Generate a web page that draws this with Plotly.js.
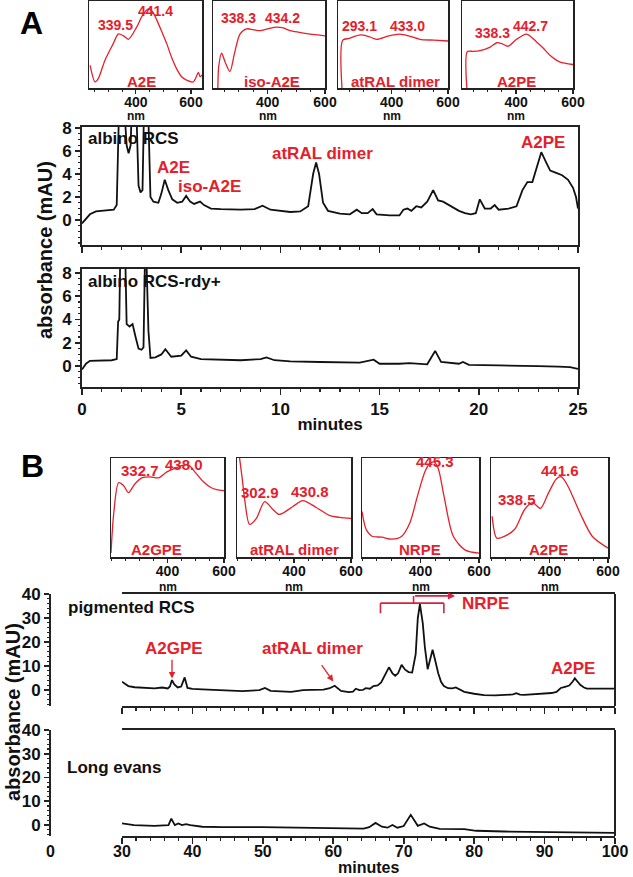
<!DOCTYPE html>
<html><head><meta charset="utf-8">
<script src="https://cdn.plot.ly/plotly-3.0.1.min.js"></script>
<style>html,body{margin:0;padding:0;background:#fff}#chart{width:633px;height:877px}</style>
</head><body><div id="chart"></div>
<script>
// ---------------- DATA ----------------
// Panel A chromatograms (minutes, mAU)
const albinoRcsTime = [0,0.15,0.4,0.7,1.0,1.3,1.6,1.75,1.82,1.9,2.05,2.25,2.35,2.45,2.55,2.7,2.85,2.95,3.05,3.15,3.3,3.45,3.6,3.85,4.0,4.17,4.35,4.55,4.8,5.05,5.25,5.45,5.65,5.95,6.15,6.5,7.0,8.0,8.7,9.1,9.5,10.0,10.5,11.0,11.4,11.65,11.8,11.95,12.15,12.4,13.0,13.5,13.85,14.1,14.4,14.65,14.85,15.5,16.0,16.2,16.4,16.6,16.85,17.1,17.4,17.7,17.95,18.2,18.6,19.0,19.3,19.6,19.85,20.05,20.3,20.6,20.8,21.0,21.5,21.9,22.2,22.45,22.7,22.9,23.15,23.4,23.6,23.9,24.2,24.5,24.75,24.9,25.0];
const albinoRcsAbs  = [-0.3,0.0,0.5,0.75,0.8,0.85,0.9,1.3,6.0,12,12,6.5,5.8,6.5,12,12,3.0,2.4,2.6,12,12,2.0,1.6,1.5,2.3,3.5,2.6,1.8,1.5,1.6,2.1,1.6,1.4,1.6,1.3,1.0,0.95,0.9,0.95,1.25,0.9,0.8,0.7,0.75,1.2,4.0,5.0,4.0,1.5,0.8,0.55,0.5,0.9,0.6,0.6,0.95,0.5,0.4,0.4,0.9,1.0,0.8,1.2,1.1,1.6,2.6,1.7,1.6,1.2,0.8,0.6,0.5,0.6,1.8,1.0,1.0,1.3,0.9,1.0,1.2,2.6,3.3,3.3,4.5,5.9,5.0,4.3,4.1,3.9,3.5,2.8,2.0,1.0];
const rdyTime = [0,0.2,0.4,1.0,1.5,1.75,1.82,1.88,1.95,2.15,2.25,2.4,2.55,2.7,2.85,3.0,3.1,3.2,3.35,3.45,3.7,4.0,4.2,4.5,5.0,5.25,5.5,6.0,7.0,8.0,9.0,9.3,9.7,10.5,12.0,13.0,14.0,14.7,15.0,16.0,16.5,17.4,17.8,18.1,19.0,19.2,19.5,21.0,22.0,23.0,24.0,24.6,25.0];
const rdyAbs  = [-0.3,0.2,0.45,0.45,0.5,0.6,3.8,4.0,12,12,3.6,3.4,3.6,2.5,1.5,1.4,1.6,12,3.0,0.7,0.75,1.0,1.45,0.8,0.9,1.35,0.8,0.6,0.55,0.5,0.6,0.75,0.5,0.4,0.35,0.3,0.3,0.55,0.2,0.2,0.25,0.15,1.3,0.35,0.2,0.35,0.1,0.05,0.05,0.0,-0.05,-0.1,-0.25];

// Panel B chromatograms (minutes, mAU)
const pigTime = [30,30.5,30.9,31.8,32.9,33.8,34.6,35.7,36.5,36.8,37.1,37.4,37.9,38.4,38.9,39.3,40.0,41.4,43.0,44.3,46.0,47.1,49.5,50.3,51.1,52.5,54.0,55.0,55.7,57.0,58.6,59.5,60.2,61.1,62.2,62.8,63.2,63.7,64.2,64.6,65.2,65.7,66.3,66.8,67.3,67.9,68.4,68.8,69.2,69.7,70.2,70.7,71.2,71.7,72.0,72.3,72.7,73.0,73.4,73.8,74.1,74.5,74.9,75.3,75.7,76.3,76.9,77.4,78.0,78.6,80.0,81.4,83.0,84.3,85.5,86.0,86.5,87.1,88.5,90.0,91.0,91.7,92.3,92.9,93.5,94.0,94.3,94.7,95.1,95.6,96.0,98.0,100.0];
const pigAbs  = [3.5,2.6,1.7,1.2,1.1,0.9,0.7,1.1,0.7,1.5,4.2,2.5,1.1,1.5,5.3,0.9,0.5,0.3,0.1,0.0,-0.2,-0.4,0.0,0.9,-0.3,-0.5,-0.7,-0.3,0.0,0.1,0.2,0.8,1.8,-0.3,-0.8,-0.6,0.6,0.0,0.1,0.8,0.6,1.7,2.0,3.2,6.0,9.5,7.0,6.0,7.0,10.5,8.5,7.5,7.3,15,30,35.8,28,18,8.7,13,16.8,12,7.0,3.5,1.7,0.8,0.7,1.1,0.2,-0.7,-1.5,-2.1,-2.2,-2.1,-1.8,-1.3,-1.9,-2.0,-1.8,-1.4,-1.2,-0.7,0.9,1.4,1.9,3.6,4.9,3.5,2.1,1.1,0.6,0.6,0.6];
const leTime = [30,31.7,34.6,35.7,36.6,37.0,37.5,38.0,38.5,39.1,39.7,41.4,44.3,50.0,55.7,61.4,64.3,65.1,66.0,66.9,67.7,68.4,69.1,70.0,71.0,72.0,72.9,73.7,75.1,78.6,80.3,84.3,90.0,95.7,100.0];
const leAbs  = [0.7,0.0,-0.3,0.0,0.0,2.7,0.0,0.7,0.0,0.4,0.0,-0.7,-0.9,-0.9,-1.2,-1.5,-1.5,-0.9,0.9,-0.7,-1.1,0.0,-1.1,-0.4,4.3,-0.3,0.7,-0.7,-1.6,-1.7,-2.4,-2.7,-2.9,-3.2,-3.3];

// Panel A UV-vis spectra (nm, relative absorbance)
const a2eNm  = [234,252,264,288,318,336,355,373,403,425,445,460,476,495,512,530,548,566,584,608,618,627,633,640];
const a2eAbs = [0.26,0.07,0.11,0.32,0.51,0.62,0.60,0.56,0.70,0.84,0.91,0.88,0.78,0.64,0.51,0.35,0.22,0.13,0.09,0.07,0.12,0.18,0.13,0.15];
const isoA2eNm  = [227,230,240,252,269,285,304,327,350,374,400,432,455,478,510,548,575,600];
const isoA2eAbs = [0.0,0.25,0.40,0.30,0.19,0.40,0.62,0.68,0.67,0.66,0.68,0.70,0.69,0.66,0.64,0.62,0.61,0.60];
const dimerANm  = [224,227,250,289,320,347,390,429,460,500,550,600];
const dimerAAbs = [0.0,0.55,0.57,0.61,0.59,0.56,0.60,0.62,0.60,0.56,0.55,0.54];
const a2peANm  = [227,229,250,274,309,332,350,372,402,437,472,495,518,553,600];
const a2peAAbs = [0.0,0.42,0.42,0.43,0.47,0.52,0.51,0.48,0.56,0.62,0.53,0.46,0.38,0.30,0.27];

// Panel B UV-vis spectra (nm, relative absorbance)
const a2gpeNm  = [200,210,227,245,262,285,309,339,368,398,430,460,474,500,527,555,574,600];
const a2gpeAbs = [0.04,0.45,0.75,0.72,0.65,0.74,0.80,0.81,0.80,0.86,0.90,0.93,0.93,0.85,0.76,0.70,0.68,0.67];
const dimerBNm  = [209,218,227,244,268,297,326,349,396,431,478,524,560,600];
const dimerBAbs = [1.0,0.8,0.58,0.33,0.39,0.56,0.48,0.43,0.51,0.57,0.50,0.42,0.40,0.39];
const nrpeNm  = [200,214,234,268,302,336,363,390,415,430,445,460,480,512,553,600];
const nrpeAbs = [0.46,0.28,0.21,0.20,0.18,0.21,0.34,0.62,0.86,0.94,0.96,0.90,0.62,0.21,0.07,0.04];
const a2peBNm  = [204,220,247,281,315,342,369,397,424,441,464,505,546,600];
const a2peBAbs = [0.41,0.19,0.21,0.28,0.48,0.55,0.49,0.65,0.79,0.81,0.71,0.44,0.21,0.09];

// Tick labels
const aYTicks = [0,2,4,6,8];
const bYTicks = [0,10,20,30,40];
const specTicks = [400,600];

// ---------------- LAYOUT HELPERS ----------------
const W = 633, H = 877;
const FF = 'Liberation Sans, Arial, sans-serif';
const RED = '#e5202b';
const BRK = '#d8203f';
const LC = '#222';
const xd = (a,b) => [a/W, b/W];
const yd = (t,b) => [1-b/H, 1-t/H];
const bold = (s,c) => ({family:FF, size:s, color:c||'#111', weight:'bold'});

function chromX(domain, anchor, range, dtick, minor, labels, title, standoff, fsize) {
  const ax = {domain, anchor, range, showline:true, linecolor:LC, linewidth:2, mirror:true,
    ticks:'outside', ticklen:6, tickwidth:1.6, tickcolor:LC, tickmode:'linear', tick0:0, dtick,
    minor:{ticks:'outside', tickmode:'linear', tick0:0, dtick:minor, ticklen:3, tickwidth:1.2, tickcolor:LC},
    showticklabels:labels, tickfont:bold(fsize||17), showgrid:false, zeroline:false, fixedrange:true};
  if (standoff !== undefined) ax.ticklabelstandoff = standoff;
  if (title) ax.title = {text:title, font:bold(17), standoff:0};
  return ax;
}
function chromY(domain, anchor, range, vals, minor, mirror, pos) {
  const ax = {domain, anchor, range, showline:true, linecolor:LC, linewidth:2, mirror,
    ticks:'outside', ticklen:5, tickwidth:1.6, tickcolor:LC, tickmode:'array', tickvals:vals,
    minor:{ticks:'outside', tickmode:'linear', tick0:0, dtick:minor, ticklen:2.5, tickwidth:1.1, tickcolor:LC},
    tickfont:bold(17), showgrid:false, zeroline:false, fixedrange:true};
  if (pos !== undefined) ax.position = pos;
  return ax;
}
function specX(domain, anchor, range) {
  return {domain, anchor, range, showline:true, linecolor:LC, linewidth:1.5, mirror:true,
    ticks:'outside', ticklen:4, tickwidth:1.2, tickcolor:LC, tickmode:'array', tickvals:specTicks,
    minor:{ticks:'outside', tickmode:'linear', tick0:0, dtick:50, ticklen:2.5, tickwidth:1, tickcolor:LC},
    tickfont:bold(14), ticklabelstandoff:-3,
    showgrid:false, zeroline:false, fixedrange:true};
}
function specY(domain, anchor) {
  return {domain, anchor, range:[0,1], showline:true, linecolor:LC, linewidth:1.5, mirror:true,
    ticks:'', showticklabels:false, showgrid:false, zeroline:false, fixedrange:true};
}

// ---------------- TRACES ----------------
const chromLine = {color:'#111', width:1.8};
const specLine = {color:RED, width:1.3, shape:'spline', smoothing:0.8};
const traces = [
  {x:albinoRcsTime, y:albinoRcsAbs, xaxis:'x', yaxis:'y', line:chromLine},
  {x:rdyTime, y:rdyAbs, xaxis:'x2', yaxis:'y2', line:chromLine},
  {x:a2eNm, y:a2eAbs, xaxis:'x3', yaxis:'y3', line:specLine},
  {x:isoA2eNm, y:isoA2eAbs, xaxis:'x4', yaxis:'y4', line:specLine},
  {x:dimerANm, y:dimerAAbs, xaxis:'x5', yaxis:'y5', line:specLine},
  {x:a2peANm, y:a2peAAbs, xaxis:'x6', yaxis:'y6', line:specLine},
  {x:pigTime, y:pigAbs, xaxis:'x7', yaxis:'y7', line:chromLine},
  {x:leTime, y:leAbs, xaxis:'x8', yaxis:'y8', line:chromLine},
  {x:a2gpeNm, y:a2gpeAbs, xaxis:'x9', yaxis:'y9', line:specLine},
  {x:dimerBNm, y:dimerBAbs, xaxis:'x10', yaxis:'y10', line:specLine},
  {x:nrpeNm, y:nrpeAbs, xaxis:'x11', yaxis:'y11', line:specLine},
  {x:a2peBNm, y:a2peBAbs, xaxis:'x12', yaxis:'y12', line:specLine}
].map(t => Object.assign({type:'scatter', mode:'lines', hoverinfo:'skip', showlegend:false, cliponaxis:true}, t));

// ---------------- AXES ----------------
const aInsetX = [[89,202],[213,325],[338,448],[462,573]];
const bInsetX = [[111,224],[237,351],[362,479],[491,608]];
const layout = {
  width:W, height:H, margin:{l:0,r:0,t:0,b:0}, paper_bgcolor:'#fff', plot_bgcolor:'rgba(0,0,0,0)',
  showlegend:false, font:{family:FF},
  xaxis:  chromX(xd(82,578), 'y', [0,25], 5, 1, false),
  yaxis:  chromY(yd(127,245), 'x', [-2.17,8.09], aYTicks, 0.5, true),
  xaxis2: chromX(xd(82,578), 'y2', [0,25], 5, 1, true, 'minutes'),
  yaxis2: chromY(yd(269,387), 'x2', [-1.8,8.34], aYTicks, 0.5, true),
  xaxis7: chromX(xd(122,615), 'y7', [30,100], 10, 2, false),
  yaxis7: chromY(yd(594,706), 'free', [-6.6,40], bYTicks, 2, false, 50/W),
  xaxis8: chromX(xd(122,615), 'y8', [30,100], 10, 2, true, null, -6, 16),
  yaxis8: chromY(yd(730,836), 'free', [-4.6,40], bYTicks, 2, false, 50/W),
  annotations:[], shapes:[]
};
const aRanges = [[230,640],[210,600],[210,600],[210,600]];
aInsetX.forEach((b,i) => {
  const n = i+3;
  layout['xaxis'+n] = specX(xd(b[0],b[1]), 'y'+n, aRanges[i]);
  layout['yaxis'+n] = specY(yd(1,88), 'x'+n);
});
bInsetX.forEach((b,i) => {
  const n = i+9;
  layout['xaxis'+n] = specX(xd(b[0],b[1]), 'y'+n, [200,600]);
  layout['yaxis'+n] = specY(yd(458,557), 'x'+n);
});

// right frame lines for panel B (y axes are free-positioned)
['7','8'].forEach(n => layout.shapes.push({type:'line', xref:'x'+n+' domain', yref:'y'+n+' domain',
  x0:1, x1:1, y0:0, y1:1, line:{color:LC, width:2}}));

// ---------------- ANNOTATIONS ----------------
const ann = layout.annotations;
function txt(text, x, y, xref, yref, font, xanchor, extra) {
  ann.push(Object.assign({text, x, y, xref, yref, font, showarrow:false, xanchor:xanchor||'center', yanchor:'middle'}, extra||{}));
}
const px = v => v/W, py = v => 1 - v/H;
// panel letters
txt('A', px(31), py(23), 'paper','paper', bold(32,'#000'));
txt('B', px(32), py(466), 'paper','paper', bold(32,'#000'));
// y titles
txt('absorbance (mAU)', px(45), py(250), 'paper','paper', bold(20,'#111'), 'center', {textangle:-90});
txt('absorbance (mAU)', px(13), py(712), 'paper','paper', bold(20,'#111'), 'center', {textangle:-90});
// x title panel B and broken-axis "0" tick label
txt('minutes', px(368), py(867), 'paper','paper', bold(16));
txt('0', px(50), py(851), 'paper','paper', bold(16));
// inset "nm" units under the 400 tick
['3','4','5','6'].forEach(n => txt('nm', 400, py(116), 'x'+n, 'paper', bold(12)));
['9','10','11','12'].forEach(n => txt('nm', 400, py(587), 'x'+n, 'paper', bold(12)));
// sample names
txt('albino RCS', px(86), py(139), 'paper','paper', bold(17), 'left');
txt('albino RCS-rdy+', px(86), py(281), 'paper','paper', bold(17), 'left');
txt('pigmented RCS', px(66), py(607), 'paper','paper', bold(17), 'left');
txt('Long evans', px(65), py(767), 'paper','paper', bold(17), 'left');
// Panel A peak labels
txt('A2E', 4.6, 4.6, 'x','y', bold(17,RED));
txt('iso-A2E', 6.45, 2.9, 'x','y', bold(17,RED));
txt('atRAL dimer', 12.1, 5.8, 'x','y', bold(17,RED));
txt('A2PE', 23.25, 6.7, 'x','y', bold(17,RED));
// Panel B peak labels
txt('A2GPE', 37.4, 17.3, 'x7','y7', bold(17,RED));
txt('atRAL dimer', 57.1, 17.3, 'x7','y7', bold(17,RED));
txt('A2PE', 94.1, 9.0, 'x7','y7', bold(17,RED));
txt('NRPE', 81.6, 36.2, 'x7','y7', bold(17,RED));
ann.push({x:37.1, y:4.8, ax:37.1, ay:13.3, xref:'x7', yref:'y7', axref:'x7', ayref:'y7', text:'', showarrow:true,
  arrowhead:2, arrowsize:1, arrowwidth:1.3, arrowcolor:RED});
ann.push({x:60.0, y:3.6, ax:58.2, ay:11.0, xref:'x7', yref:'y7', axref:'x7', ayref:'y7', text:'', showarrow:true,
  arrowhead:2, arrowsize:1, arrowwidth:1.3, arrowcolor:RED});
// NRPE brackets
const seg = (x0,y0,x1,y1) => layout.shapes.push({type:'line', xref:'x7', yref:'y7', x0,y0,x1,y1, line:{color:BRK, width:1.6}});
seg(66.7,32.0,66.7,36.2); seg(66.7,36.2,75.7,36.2); seg(75.7,36.2,75.7,32.0);
seg(71.4,36.2,71.4,39.2);
ann.push({x:77.3, y:39.2, ax:71.4, ay:39.2, xref:'x7', yref:'y7', axref:'x7', ayref:'y7', text:'', showarrow:true,
  arrowhead:2, arrowsize:0.9, arrowwidth:1.6, arrowcolor:BRK});

// inset spectrum labels: [axis, text, nm, value, size]
const specLabels = [
  ['3','339.5',327,0.72,14],['3','441.4',470,0.89,14],['3','A2E',421,0.08,15],
  ['4','338.3',300,0.81,14],['4','434.2',452,0.81,14],['4','iso-A2E',415,0.08,15],
  ['5','293.1',285,0.71,14],['5','433.0',455,0.71,14],['5','atRAL dimer',415,0.08,15],
  ['6','338.3',318,0.63,14],['6','442.7',450,0.71,14],['6','A2PE',402,0.08,15],
  ['9','332.7',303,0.87,15],['9','438.0',460,0.93,15],['9','A2GPE',362,0.08,15],
  ['10','302.9',279,0.65,15],['10','430.8',455,0.66,15],['10','atRAL dimer',402,0.08,15],
  ['11','445.3',450,0.96,15],['11','NRPE',398,0.08,15],
  ['12','338.5',288,0.58,15],['12','441.6',437,0.87,15],['12','A2PE',397,0.08,15]
];
specLabels.forEach(l => txt(l[1], l[2], l[3], 'x'+l[0], 'y'+l[0], bold(l[4], RED)));

Plotly.newPlot('chart', traces, layout, {staticPlot:true, displayModeBar:false});
</script>
</body></html>
